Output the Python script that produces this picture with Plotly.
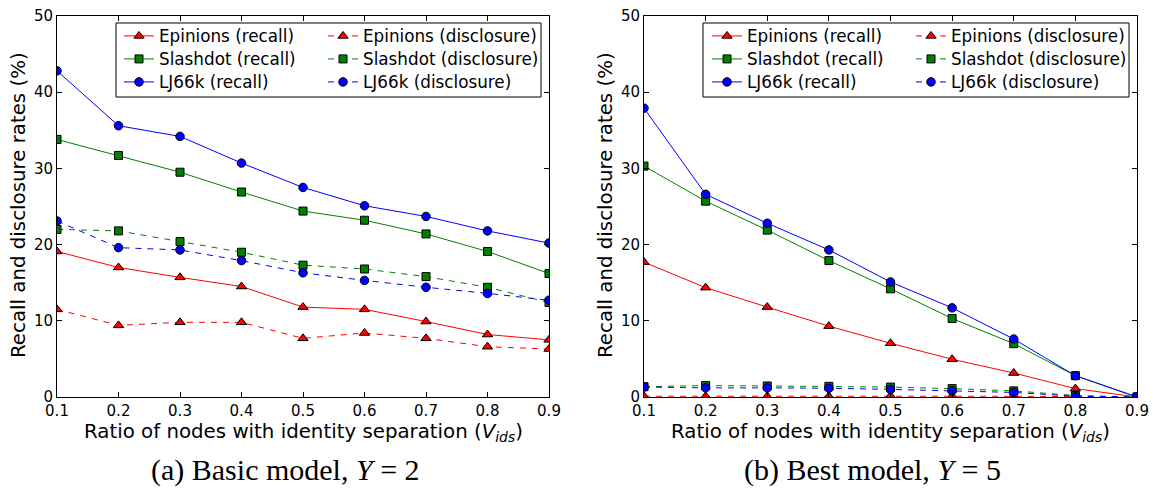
import plotly.graph_objects as go

x_vals = [0.1, 0.2, 0.3, 0.4, 0.5, 0.6, 0.7, 0.8, 0.9]

# (a) Basic model, Y = 2
a_epi_recall = [19.1, 17.0, 15.7, 14.5, 11.8, 11.5, 9.9, 8.2, 7.5]
a_sla_recall = [33.8, 31.7, 29.5, 26.9, 24.4, 23.2, 21.4, 19.1, 16.2]
a_lj_recall = [42.8, 35.6, 34.2, 30.7, 27.5, 25.1, 23.7, 21.8, 20.2]
a_epi_discl = [11.5, 9.4, 9.8, 9.8, 7.7, 8.4, 7.7, 6.6, 6.3]
a_sla_discl = [22.0, 21.8, 20.4, 19.0, 17.3, 16.8, 15.8, 14.4, 12.4]
a_lj_discl = [23.1, 19.6, 19.3, 17.9, 16.3, 15.3, 14.4, 13.6, 12.7]

# (b) Best model, Y = 5
b_epi_recall = [17.7, 14.35, 11.8, 9.3, 7.05, 4.95, 3.15, 1.1, 0.0]
b_sla_recall = [30.3, 25.7, 21.9, 17.9, 14.2, 10.3, 7.0, 2.8, 0.0]
b_lj_recall = [37.9, 26.6, 22.8, 19.3, 15.1, 11.7, 7.6, 2.8, 0.0]
b_epi_discl = [0.1, 0.1, 0.1, 0.1, 0.15, 0.1, 0.1, 0.05, 0.0]
b_sla_discl = [1.35, 1.5, 1.45, 1.4, 1.3, 1.1, 0.8, 0.2, 0.0]
b_lj_discl = [1.3, 1.2, 1.2, 1.15, 1.0, 0.8, 0.6, 0.1, 0.0]

names = ["Epinions", "Slashdot", "LJ66k"]
colors = ["#ff0000", "#008000", "#0000ff"]
symbols = ["triangle-up", "square", "circle"]
msizes = [9, 8, 8.5]

x_ticks = [0.1, 0.2, 0.3, 0.4, 0.5, 0.6, 0.7, 0.8, 0.9]
y_ticks = [0, 10, 20, 30, 40, 50]

W, H = 1157, 492
def px(x):
    return x / W
def py(y):
    return 1 - y / H

fig = go.Figure()

# legend layout: (text start x for recall column, disclosure column) per panel
legend_cols = [(167, 371), (755, 959)]
legend_rows = [36, 59, 82]
leg_font = dict(family="DejaVu Sans", size=16.8, color="black")

panels = [
    ("x", "y", [a_epi_recall, a_sla_recall, a_lj_recall], [a_epi_discl, a_sla_discl, a_lj_discl]),
    ("x2", "y2", [b_epi_recall, b_sla_recall, b_lj_recall], [b_epi_discl, b_sla_discl, b_lj_discl]),
]

legends = {}
k = 0
for p, (xa, ya, recs, discs) in enumerate(panels):
    for kind, series, dash, col in [("recall", recs, "solid", 0), ("disclosure", discs, "6px,6px", 1)]:
        for i in range(3):
            k += 1
            lname = "legend" if k == 1 else f"legend{k}"
            legends[lname] = dict(
                x=px(legend_cols[p][col] - 48), y=py(legend_rows[i]),
                xanchor="left", yanchor="middle", orientation="v",
                bgcolor="rgba(0,0,0,0)", borderwidth=0, font=leg_font,
            )
            fig.add_trace(go.Scatter(
                x=x_vals, y=series[i], xaxis=xa, yaxis=ya, mode="lines+markers",
                name=f"{names[i]} ({kind})", legend=lname, showlegend=True,
                line=dict(color=colors[i], width=1, dash=dash),
                marker=dict(symbol=symbols[i], size=msizes[i], color=colors[i],
                            line=dict(color="black", width=1)),
            ))

axis_common = dict(
    showgrid=False, zeroline=False, showline=True, linecolor="black", linewidth=1,
    mirror="ticks", ticks="inside", ticklen=5, tickcolor="black", tickwidth=1,
    automargin=False,
    tickfont=dict(family="DejaVu Sans", size=15, color="black"),
)

fig.update_layout(
    width=W, height=H, showlegend=True,
    margin=dict(l=0, r=0, t=0, b=0, autoexpand=False),
    paper_bgcolor="white", plot_bgcolor="white",
    xaxis=dict(domain=[px(57), px(549)], range=[0.1, 0.9], tickvals=x_ticks,
               ticktext=[f"{v:.1f}" for v in x_ticks], anchor="y", **axis_common),
    yaxis=dict(domain=[py(397), py(16)], range=[0, 50], tickvals=y_ticks, anchor="x", **axis_common),
    xaxis2=dict(domain=[px(644), px(1137)], range=[0.1, 0.9], tickvals=x_ticks,
                ticktext=[f"{v:.1f}" for v in x_ticks], anchor="y2", **axis_common),
    yaxis2=dict(domain=[py(397), py(16)], range=[0, 50], tickvals=y_ticks, anchor="x2", **axis_common),
    **legends,
)

# legend frames
for x0, x1 in [(116, 541), (703, 1129)]:
    fig.add_shape(type="rect", xref="paper", yref="paper",
                  x0=px(x0), x1=px(x1), y0=py(97), y1=py(23),
                  line=dict(color="black", width=1), fillcolor="rgba(0,0,0,0)", layer="above")

label_font = dict(family="DejaVu Sans", size=19.8, color="black")
xlabel = "Ratio of nodes with identity separation (<i>V</i><sub><i>ids</i></sub>)"
ylabel = "Recall and disclosure rates (%)"
for cx, ycx in [(303, 18), (890, 605)]:
    fig.add_annotation(x=px(cx), y=py(432), xref="paper", yref="paper", text=xlabel,
                       showarrow=False, font=label_font, xanchor="center", yanchor="middle")
    fig.add_annotation(x=px(ycx), y=py(205), xref="paper", yref="paper", text=ylabel,
                       showarrow=False, font=label_font, textangle=-90, xanchor="center", yanchor="middle")

cap_font = dict(family="Liberation Serif", size=30, color="black")
fig.add_annotation(x=px(285), y=py(470), xref="paper", yref="paper",
                   text="(a) Basic model, <i>Y</i> = 2", showarrow=False, font=cap_font,
                   xanchor="center", yanchor="middle")
fig.add_annotation(x=px(872), y=py(470), xref="paper", yref="paper",
                   text="(b) Best model, <i>Y</i> = 5", showarrow=False, font=cap_font,
                   xanchor="center", yanchor="middle")

fig.write_html("out.html")
